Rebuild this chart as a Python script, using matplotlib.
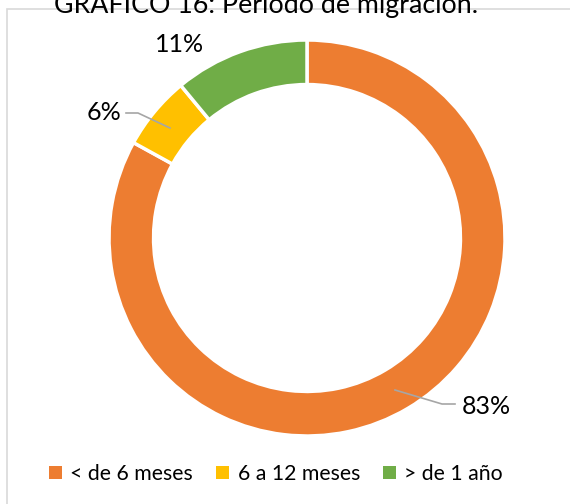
import matplotlib.pyplot as plt
from matplotlib.patches import Patch, Rectangle

# Data
categories = ["< de 6 meses", "6 a 12 meses", "> de 1 año"]
values = [83, 6, 11]
pct_labels = ["83%", "6%", "11%"]
colors = ["#ED7D31", "#FFC000", "#70AD47"]

plt.rcParams['font.family'] = ['Lato', 'DejaVu Sans']

W, H = 570, 504
fig = plt.figure(figsize=(W / 100, H / 100), dpi=100)

# outer frame of the chart area
fig.patches.append(Rectangle((7 / W, -0.1), 1.2, (H - 9) / H + 0.1,
                             transform=fig.transFigure, fill=False,
                             edgecolor="#D9D9D9", linewidth=1.2))

# donut axes: centre (307, 238), radius 198 px
cx, cy, r = 307, 238, 198
ax = fig.add_axes([(cx - r) / W, (H - cy - r) / H, 2 * r / W, 2 * r / H])
ax.pie(values, colors=colors, startangle=90, counterclock=False,
       radius=1.0, wedgeprops=dict(width=0.225, edgecolor="white", linewidth=2.5))
ax.set_xlim(-1, 1)
ax.set_ylim(-1, 1)
ax.set_aspect("equal")
ax.axis("off")


def px(x, y):
    return ((x - cx) / r, (cy - y) / r)


lab_font = 18
# 83% with leader line
ax.plot(*zip(px(395, 390), px(442, 404), px(455, 404)), color="#A6A6A6", lw=1.2,
        clip_on=False)
ax.text(*px(462, 406), pct_labels[0], fontsize=lab_font, ha="left", va="center")
# 6% with leader line
ax.plot(*zip(px(170, 128), px(138, 113), px(126, 113)), color="#A6A6A6", lw=1.2,
        clip_on=False)
ax.text(*px(121, 113), pct_labels[1], fontsize=lab_font, ha="right", va="center")
# 11%
ax.text(*px(180, 44), pct_labels[2], fontsize=lab_font, ha="center", va="center")

# title (cut off at the top in the original)
fig.text(266 / W, 1 - 13 / H, "GRÁFICO 16: Período de migración.", fontsize=19.3,
         ha="center", va="baseline")

handles = [Patch(facecolor=c, edgecolor="none") for c in colors]
fig.legend(handles, categories, loc="center", bbox_to_anchor=(276 / W, 30 / H),
           ncol=3, frameon=False, fontsize=15.3, handlelength=0.6, handleheight=0.6,
           handletextpad=0.4, columnspacing=1.1)

fig.savefig("out.png", dpi=100)
